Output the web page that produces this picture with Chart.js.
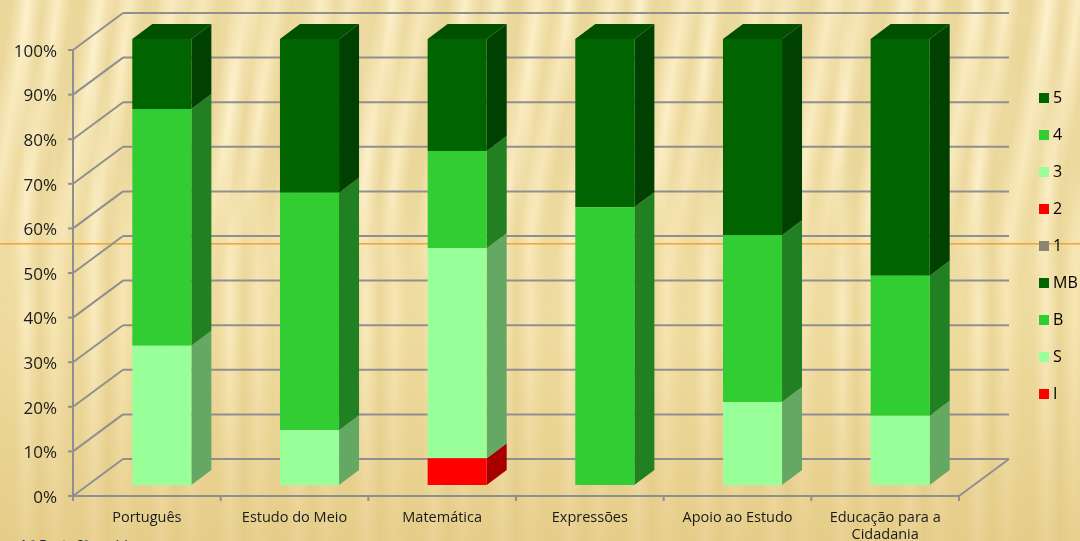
<!DOCTYPE html>
<html lang="pt"><head><meta charset="utf-8">
<style>
html,body{margin:0;padding:0;width:1080px;height:541px;overflow:hidden}
#bg{position:absolute;inset:0;background:
 linear-gradient(180deg,rgba(255,244,205,.25) 0%,rgba(252,236,190,.25) 30%,rgba(240,218,155,.25) 60%,rgba(226,200,130,.75) 100%),
 repeating-linear-gradient(90deg,#eedb9f 0 14px,#fcefc8 26px,#e9d596 40px,#f9e9bb 54px,#eedb9f 68px);}
#diag{position:absolute;left:0;top:0;width:1080px;height:300px;
 background:repeating-linear-gradient(99deg,rgba(232,212,150,.75) 0 12px,rgba(255,243,208,.55) 28px,rgba(232,212,150,.6) 44px,rgba(255,243,208,.4) 58px,rgba(232,212,150,.75) 72px);
 -webkit-mask-image:linear-gradient(180deg,#000 0,#000 55%,transparent 100%);mask-image:linear-gradient(180deg,#000 0,#000 55%,transparent 100%)}
#rule{position:absolute;left:0;top:243px;width:1080px;height:2px;background:linear-gradient(180deg,#f09a28,rgba(240,160,50,.35))}
#note{position:absolute;left:19px;top:537px;font:italic 13px "Liberation Sans",sans-serif;color:#222}
#wrap{position:absolute;left:0;top:0;width:1080px;height:541px}
</style></head><body>
<div id="bg"></div><div id="diag"></div><div id="rule"></div>
<div id="note">1.º Ponto 3º ano(s)</div>
<div id="wrap"><canvas id="c" width="1080" height="541"></canvas></div>
<script src="https://cdn.jsdelivr.net/npm/chart.js@4"></script>
<script>
const categories=["Português","Estudo do Meio","Matemática","Expressões","Apoio ao Estudo",["Educação para a","Cidadania"]];
const seriesI =[0,0,6,0,0,0];
const seriesS =[31.2,12.3,47.1,0,18.6,15.5];
const seriesB =[53.1,53.2,21.8,62.3,37.4,31.4];
const seriesMB=[15.7,34.5,25.1,37.7,44,53.1];
const series1 =[0,0,0,0,0,0];
const series2 =[0,0,0,0,0,0];
const series3 =[0,0,0,0,0,0];
const series4 =[0,0,0,0,0,0];
const series5 =[0,0,0,0,0,0];
const yTicks=[0,10,20,30,40,50,60,70,80,90,100];
const COL={dark:"#006400",mid:"#32CD32",light:"#99FF99",red:"#FF0000",grey:"#8C8570"};
const SIDE={"#006400":"#004000","#32CD32":"#218021","#99FF99":"#64A864","#FF0000":"#A80000","#8C8570":"#5c5749"};
const GRID="#8f8f8f", FONT='"Open Sans",sans-serif';
const DX=20,DY=15;       // bar depth
const WX=50,WY=37;       // wall depth
const FX=15,FY=11;       // front plane offset from bar plane
function ds(label,data,color){return{label,data,backgroundColor:color,borderWidth:0,categoryPercentage:.4,barPercentage:1}}
const depth={id:"depth",
 afterLayout(ch){const l=ch.legend;l.left=1022;l.right=1080;l.top=69;l.bottom=541;},
 beforeDatasetsDraw(ch){
  const {ctx,scales:{x,y}}=ch;
  const L=x.left-FX,R=x.right-FX;
  ctx.save();ctx.strokeStyle=GRID;ctx.lineWidth=2;ctx.lineCap="butt";
  const line=(a,b,c,d)=>{ctx.beginPath();ctx.moveTo(a,b);ctx.lineTo(c,d);ctx.stroke()};
  yTicks.forEach(v=>{
    const p=y.getPixelForValue(v)+FY;
    line(L,p,L+WX,p-WY);
    line(L+WX,p-WY,R+WX,p-WY);
    line(L-5,p,L,p);
  });
  const b0=y.getPixelForValue(0)+FY,t0=y.getPixelForValue(100)+FY;
  line(L,t0-1,L,b0+1);
  line(L-5,b0,R,b0);
  line(R,b0,R+WX,b0-WY);
  const n=categories.length;
  for(let i=0;i<=n;i++){const px=L+(R-L)*i/n;line(px,b0,px,b0+5);}
  ctx.restore();
  ctx.save();
  let topY={};
  ch.data.datasets.forEach((d,di)=>{
    const meta=ch.getDatasetMeta(di);
    meta.data.forEach((el,i)=>{
      if(!d.data[i])return;
      const p=el.getProps(["x","y","base","width"],true);
      const r=p.x+p.width/2;
      ctx.fillStyle=SIDE[d.backgroundColor];
      ctx.beginPath();ctx.moveTo(r,p.base);ctx.lineTo(r+DX,p.base-DY);ctx.lineTo(r+DX,p.y-DY);ctx.lineTo(r,p.y);ctx.closePath();ctx.fill();
      if(topY[i]===undefined||p.y<topY[i].y)topY[i]={y:p.y,l:p.x-p.width/2,r,c:d.backgroundColor};
    });
  });
  Object.values(topY).forEach(t=>{
    ctx.fillStyle="#005000";
    ctx.beginPath();ctx.moveTo(t.l,t.y);ctx.lineTo(t.l+DX,t.y-DY);ctx.lineTo(t.r+DX,t.y-DY);ctx.lineTo(t.r,t.y);ctx.closePath();ctx.fill();
  });
  ctx.restore();
 }};
new Chart(document.getElementById("c"),{
 type:"bar",
 data:{labels:categories,datasets:[
  ds("I",seriesI,COL.red),ds("S",seriesS,COL.light),ds("B",seriesB,COL.mid),ds("MB",seriesMB,COL.dark),
  ds("1",series1,COL.grey),ds("2",series2,COL.red),ds("3",series3,COL.light),ds("4",series4,COL.mid),ds("5",series5,COL.dark)]},
 plugins:[depth],
 options:{responsive:false,animation:false,devicePixelRatio:1,
  layout:{padding:{top:39,right:106,left:0,bottom:0}},
  plugins:{tooltip:{enabled:false},
   legend:{position:"chartArea",align:"start",reverse:true,
    labels:{boxWidth:2,boxHeight:2,padding:21,color:"#1a1a1a",font:{family:FONT,size:16},
     generateLabels(ch){return ch.data.datasets.map((d,i)=>({text:d.label,fillStyle:d.backgroundColor,strokeStyle:d.backgroundColor,lineWidth:8,datasetIndex:i,hidden:false}))}}}},
  scales:{
   x:{stacked:true,grid:{display:false},border:{display:false},
     afterFit(s){s.height=56},
     ticks:{labelOffset:-FX,padding:17,maxRotation:0,minRotation:0,autoSkip:false,color:"#1a1a1a",font:{family:FONT,size:14.5,lineHeight:1.15}}},
   y:{stacked:true,min:0,max:100,grid:{display:false},border:{display:false},
     afterFit(s){s.width=88},
     ticks:{stepSize:10,labelOffset:13,padding:23,color:"#1a1a1a",font:{family:FONT,size:17},callback:v=>v+"%"}}
  }}});
</script></body></html>
